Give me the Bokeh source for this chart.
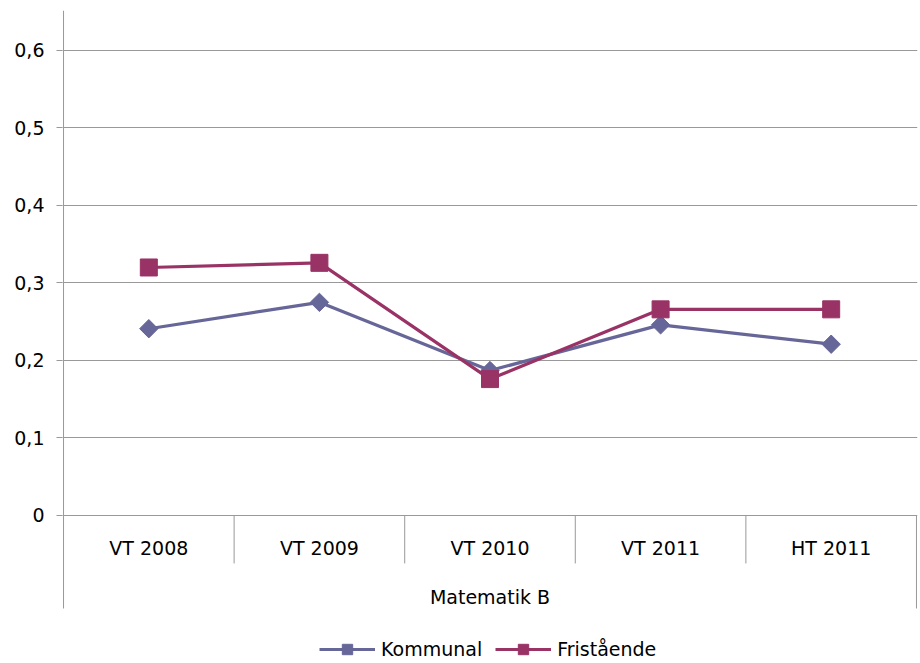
from bokeh.plotting import figure
from bokeh.models import (FactorRange, Range1d, ColumnDataSource, FixedTicker,
                          Legend, LegendItem)
from bokeh.transform import dodge
from bokeh.core.properties import value
from bokeh.embed import file_html
from bokeh.resources import INLINE
import math

# ---- data ----
categories = ["VT 2008", "VT 2009", "VT 2010", "VT 2011", "HT 2011"]
group_label = "Matematik B"
kommunal = [0.241, 0.275, 0.187, 0.246, 0.221]
fristaende = [0.320, 0.326, 0.176, 0.266, 0.266]
y_ticks = [0, 0.1, 0.2, 0.3, 0.4, 0.5, 0.6]
y_tick_labels = ["0", "0,1", "0,2", "0,3", "0,4", "0,5", "0,6"]
series_names = ["Kommunal", "Fristående"]

# ---- styling ----
FONT = "DejaVu Sans"
FS = "19px"
C_K = "#666699"
C_F = "#993366"
GRID = "#999999"
Y_TOP = 0.6516
Y_BOTTOM = -0.191
Y_SEP = -0.0619
Y_OUTER = -0.120
Y_CAT = -0.0426
Y_GROUP = -0.1058

p = figure(width=920, height=663, output_backend="svg", toolbar_location=None,
           x_range=FactorRange(factors=categories, range_padding=0.006,
                               range_padding_units="absolute"),
           y_range=Range1d(Y_BOTTOM, Y_TOP),
           min_border_left=62, min_border_right=3, min_border_top=10,
           min_border_bottom=0)
p.outline_line_color = None
p.background_fill_color = "white"
p.border_fill_color = "white"

p.xaxis.visible = False
p.xgrid.visible = False

yax = p.yaxis[0]
yax.ticker = FixedTicker(ticks=y_ticks)
yax.major_label_overrides = {t: l for t, l in zip(y_ticks, y_tick_labels)}
yax.axis_line_color = None
yax.major_tick_in = 0
yax.major_tick_out = 6
yax.major_tick_line_color = GRID
yax.minor_tick_line_color = None
yax.major_label_standoff = 12
yax.major_label_text_font = FONT
yax.major_label_text_font_size = FS
yax.major_label_text_color = "#000000"

p.ygrid.ticker = FixedTicker(ticks=y_ticks)
p.ygrid.grid_line_color = GRID
p.ygrid.grid_line_width = 1

# separators below the axis
sep_src = ColumnDataSource(dict(x=categories[1:]))
p.segment(x0=dodge("x", -0.5, range=p.x_range), y0=0,
          x1=dodge("x", -0.5, range=p.x_range), y1=Y_SEP,
          source=sep_src, line_color=GRID, line_width=1)
left_src = ColumnDataSource(dict(x=[categories[0]]))
p.segment(x0=dodge("x", -0.5, range=p.x_range), y0=Y_TOP,
          x1=dodge("x", -0.5, range=p.x_range), y1=Y_OUTER,
          source=left_src, line_color=GRID, line_width=1)
right_src = ColumnDataSource(dict(x=[categories[-1]]))
p.segment(x0=dodge("x", 0.5, range=p.x_range), y0=0,
          x1=dodge("x", 0.5, range=p.x_range), y1=Y_OUTER,
          source=right_src, line_color=GRID, line_width=1)

# category labels
p.text(x=categories, y=[Y_CAT] * len(categories), text=categories,
       text_font=value(FONT), text_font_size=FS, text_align="center",
       text_baseline="middle", text_color="#000000")
# group label (centered across all categories)
mid_src = ColumnDataSource(dict(x=[categories[len(categories) // 2]], t=[group_label]))
p.text(x="x", y=Y_GROUP, text="t", source=mid_src,
       text_font=value(FONT), text_font_size=FS, text_align="center",
       text_baseline="middle", text_color="#000000")

# series
src = ColumnDataSource(dict(x=categories, k=kommunal, f=fristaende))
lk = p.line(x="x", y="k", source=src, line_color=C_K, line_width=3.2)
mk = p.scatter(x="x", y="k", source=src, marker="square", size=13,
               angle=math.pi / 4, fill_color=C_K, line_color=C_K)
lf = p.line(x="x", y="f", source=src, line_color=C_F, line_width=3.2)
mf = p.scatter(x="x", y="f", source=src, marker="square", size=17,
               fill_color=C_F, line_color=C_F)

legend = Legend(items=[LegendItem(label=series_names[0], renderers=[lk, mk]),
                       LegendItem(label=series_names[1], renderers=[lf, mf])],
                location=(257, 1), orientation="horizontal",
                glyph_width=56, glyph_height=26, label_standoff=6, spacing=13,
                padding=0, margin=0, border_line_color=None,
                background_fill_alpha=0,
                label_text_font=FONT, label_text_font_size=FS,
                label_text_color="#000000")
p.add_layout(legend)

open("out.html", "w").write(file_html(p, INLINE))
